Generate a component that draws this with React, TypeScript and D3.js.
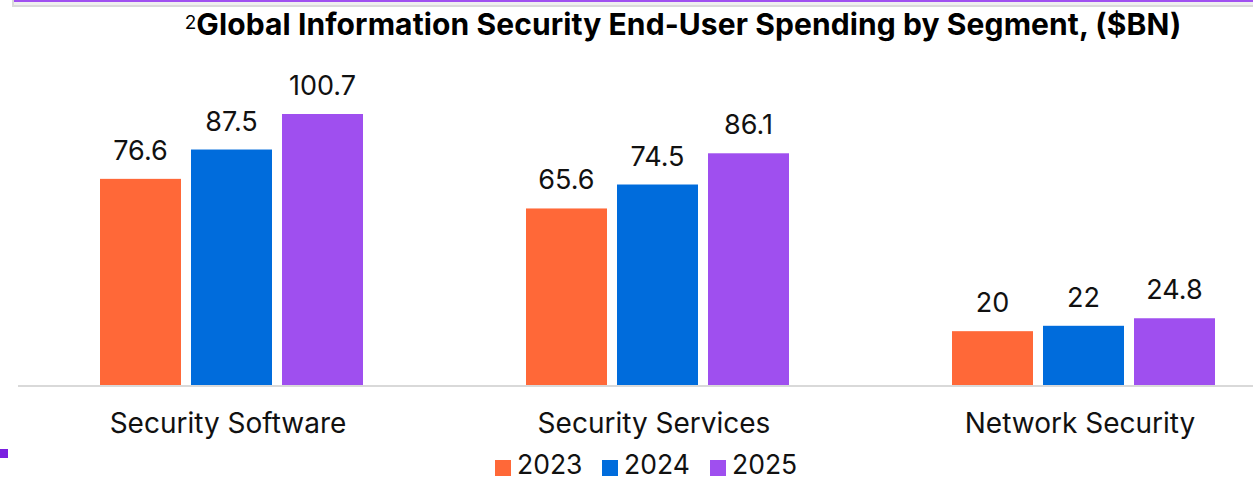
import React, { useEffect, useRef } from "react";
import * as d3 from "d3";

const categories = ["Security Software", "Security Services", "Network Security"];
const years = ["2023", "2024", "2025"];
const values2023 = [76.6, 65.6, 20];
const values2024 = [87.5, 74.5, 22];
const values2025 = [100.7, 86.1, 24.8];
const colors = ["#FF6838", "#006CDC", "#9F4FEF"];

const W = 1253;
const H = 480;
const FONT = "Inter, 'Open Sans', sans-serif";

const App = () => {
  const ref = useRef<SVGSVGElement>(null);

  useEffect(() => {
    const svg = d3.select(ref.current);
    svg.selectAll("*").remove();

    const series = [values2023, values2024, values2025];
    const baseY = 385;

    const x0 = d3.scaleBand().domain(categories).range([18, 1296]).paddingInner(0).paddingOuter(0);
    const x1 = d3.scaleBand().domain(years).range([82, 345]).paddingInner(0.11).paddingOuter(0);
    const y = d3.scaleLinear().domain([0, 100.7]).range([baseY, 114]);

    // top decoration
    svg.append("rect").attr("x", 12).attr("y", 0).attr("width", 2).attr("height", 7).attr("fill", "#DADADA");
    svg.append("rect").attr("x", 12).attr("y", 5).attr("width", W).attr("height", 2).attr("fill", "#DADADA");
    svg.append("rect").attr("x", 14).attr("y", 2).attr("width", W).attr("height", 3).attr("fill", "#EFEFEF");
    svg.append("rect").attr("x", 14).attr("y", 0).attr("width", W).attr("height", 2).attr("fill", "#A050F0");

    // title
    const title = svg.append("text")
      .attr("x", 683)
      .attr("y", 35)
      .attr("text-anchor", "middle")
      .attr("font-family", FONT)
      .attr("font-size", 30)
      .attr("letter-spacing", 0.1)
      .attr("fill", "#000");
    title.append("tspan").attr("font-size", 19).attr("baseline-shift", "30%").text("2");
    title.append("tspan").attr("font-weight", "bold").text("Global Information Security End-User Spending by Segment, ($BN)");

    // axis line
    svg.append("line")
      .attr("x1", 18).attr("x2", W)
      .attr("y1", baseY + 1).attr("y2", baseY + 1)
      .attr("stroke", "#D9D9D9").attr("stroke-width", 2);

    const groups = svg.selectAll("g.grp")
      .data(categories)
      .enter()
      .append("g")
      .attr("class", "grp")
      .attr("transform", (d) => `translate(${x0(d)},0)`);

    years.forEach((yr, si) => {
      groups.append("rect")
        .attr("x", x1(yr) as number)
        .attr("y", (_, ci) => y(series[si][ci]))
        .attr("width", x1.bandwidth())
        .attr("height", (_, ci) => baseY - y(series[si][ci]))
        .attr("fill", colors[si]);

      groups.append("text")
        .attr("x", (x1(yr) as number) + x1.bandwidth() / 2)
        .attr("y", (_, ci) => y(series[si][ci]) - 19)
        .attr("text-anchor", "middle")
        .attr("font-family", FONT)
        .attr("font-size", 27)
        .attr("fill", "#111")
        .text((_, ci) => String(series[si][ci]));
    });

    // category labels
    groups.append("text")
      .attr("x", x0.bandwidth() / 2 - 3)
      .attr("y", 433)
      .attr("text-anchor", "middle")
      .attr("font-family", FONT)
      .attr("font-size", 28)
      .attr("fill", "#111")
      .text((d) => d);

    // little marker at left
    svg.append("rect").attr("x", 0).attr("y", 449).attr("width", 8).attr("height", 9).attr("fill", "#7A1FE0");

    // legend
    const legendX = [495, 602, 710];
    years.forEach((yr, i) => {
      svg.append("rect").attr("x", legendX[i]).attr("y", 460).attr("width", 16).attr("height", 16).attr("fill", colors[i]);
      svg.append("text")
        .attr("x", legendX[i] + 22)
        .attr("y", 474)
        .attr("font-family", FONT)
        .attr("font-size", 26.5)
        .attr("fill", "#111")
        .text(yr);
    });
  }, []);

  return (
    <svg
      ref={ref}
      width={W}
      height={H}
      style={{ position: "absolute", left: 0, top: 0, background: "#fff" }}
    />
  );
};

export default App;
